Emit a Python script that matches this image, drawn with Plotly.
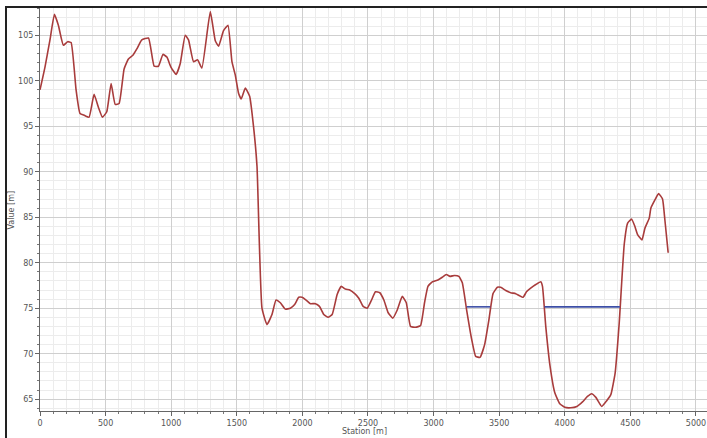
import plotly.graph_objects as go

station = [0, 38, 76, 110, 140, 178, 211, 237, 275, 305, 338, 374, 412, 445, 476, 509, 542, 573, 603,
           641, 674, 708, 738, 776, 827, 870, 903, 937, 967, 998, 1038, 1069, 1107, 1132, 1170, 1201,
           1234, 1298, 1336, 1361, 1399, 1433, 1463, 1489, 1514, 1534, 1565, 1598, 1628, 1654, 1692,
           1730, 1768, 1799, 1832, 1870, 1908, 1941, 1972, 1997, 2028, 2061, 2099, 2130, 2163, 2196,
           2227, 2265, 2296, 2328, 2361, 2399, 2430, 2463, 2494, 2524, 2557, 2590, 2621, 2654, 2689,
           2723, 2761, 2792, 2824, 2863, 2901, 2931, 2957, 2990, 3033, 3066, 3097, 3125, 3160, 3193,
           3219, 3252, 3290, 3321, 3354, 3389, 3422, 3453, 3486, 3511, 3550, 3588, 3626, 3682, 3708,
           3740, 3779, 3817, 3830, 3855, 3888, 3924, 3962, 4000, 4046, 4092, 4135, 4173, 4204, 4237,
           4282, 4318, 4351, 4384, 4415, 4453, 4479, 4509, 4534, 4555, 4588, 4611, 4644, 4656, 4687,
           4715, 4745, 4763, 4788]
value = [99.0, 101.5, 104.5, 107.3, 106.1, 103.9, 104.3, 104.2, 99.0, 96.4, 96.2, 96.0, 98.5, 97.1,
         96.0, 96.6, 99.7, 97.4, 97.5, 101.3, 102.4, 102.8, 103.5, 104.5, 104.7, 101.6, 101.6, 102.9,
         102.6, 101.5, 100.7, 101.9, 105.0, 104.5, 102.1, 102.3, 101.4, 107.6, 104.4, 103.8, 105.5,
         106.1, 102.1, 100.6, 98.6, 98.0, 99.2, 98.3, 94.9, 90.6, 75.0, 73.2, 74.3, 75.9, 75.6, 74.9,
         75.0, 75.4, 76.2, 76.2, 75.9, 75.5, 75.5, 75.2, 74.3, 74.0, 74.3, 76.5, 77.4, 77.1, 77.0,
         76.6, 76.1, 75.2, 75.0, 75.8, 76.8, 76.7, 75.9, 74.5, 73.9, 74.8, 76.3, 75.6, 73.0, 72.9,
         73.1, 75.6, 77.4, 77.9, 78.1, 78.4, 78.7, 78.5, 78.6, 78.5, 77.8, 74.8, 71.6, 69.7, 69.6,
         71.0, 73.75, 76.6, 77.3, 77.3, 76.95, 76.7, 76.6, 76.2, 76.8, 77.2, 77.6, 77.9, 77.4, 73.0,
         68.6, 65.7, 64.5, 64.1, 64.05, 64.2, 64.7, 65.3, 65.6, 65.2, 64.2, 64.8, 65.5, 67.9, 73.4,
         82.0, 84.35, 84.8, 84.0, 83.1, 82.5, 83.8, 84.9, 86.0, 86.9, 87.6, 87.0, 84.7, 81.1]

level1_x = [3252, 3432]
level1_y = [75.15, 75.15]
level2_x = [3845, 4420]
level2_y = [75.15, 75.15]

fig = go.Figure()
fig.add_trace(go.Scatter(x=station, y=value, mode="lines",
                         line=dict(color="#a83c3c", width=1.6, shape="spline", smoothing=0.4),
                         showlegend=False))
for lx, ly in [(level1_x, level1_y), (level2_x, level2_y)]:
    fig.add_trace(go.Scatter(x=lx, y=ly, mode="lines",
                             line=dict(color="#3c4ea6", width=1.6), showlegend=False))

tickfont = dict(family="DejaVu Sans", size=8, color="#555555")
fig.update_xaxes(range=[0, 5084], tick0=0, dtick=500, showgrid=True, gridcolor="#cfcfcf",
                 gridwidth=1, zeroline=False, showline=True, linecolor="#666666", linewidth=1,
                 ticks="outside", ticklen=4, tickcolor="#666666", tickfont=tickfont,
                 automargin=False,
                 minor=dict(dtick=100, showgrid=True, gridcolor="#ececec", ticks="outside",
                            ticklen=2, tickcolor="#777777"))
fig.update_yaxes(range=[63.7, 108.0], tick0=65, dtick=5, showgrid=True, gridcolor="#cfcfcf",
                 gridwidth=1, zeroline=False, showline=True, linecolor="#666666", linewidth=1,
                 ticks="outside", ticklen=4, tickcolor="#666666", tickfont=tickfont,
                 automargin=False,
                 minor=dict(dtick=1, showgrid=True, gridcolor="#ececec", ticks="outside",
                            ticklen=2, tickcolor="#777777"))

# figure sits inside a framed box (frame drawn as the div's left/top border)
fig.update_layout(width=700, height=430, margin=dict(l=33, r=0, t=0, b=27),
                  plot_bgcolor="white", paper_bgcolor="white")

titlefont = dict(family="DejaVu Sans", size=8, color="#555555")
fig.add_annotation(text="Station [m]", xref="paper", yref="paper", x=0.487, y=-0.052,
                   xanchor="center", yanchor="middle", showarrow=False, font=titlefont)
fig.add_annotation(text="Value [m]", xref="paper", yref="paper", x=-0.042, y=0.5,
                   xanchor="center", yanchor="middle", showarrow=False, font=titlefont,
                   textangle=-90)

post = ("document.body.style.margin='6px 0 0 5px';"
        "var d=document.getElementById('{plot_id}');"
        "d.style.borderLeft='2px solid #222';"
        "d.style.borderTop='2px solid #222';")

fig.write_html("out.html", config={"displayModeBar": False}, post_script=post)
